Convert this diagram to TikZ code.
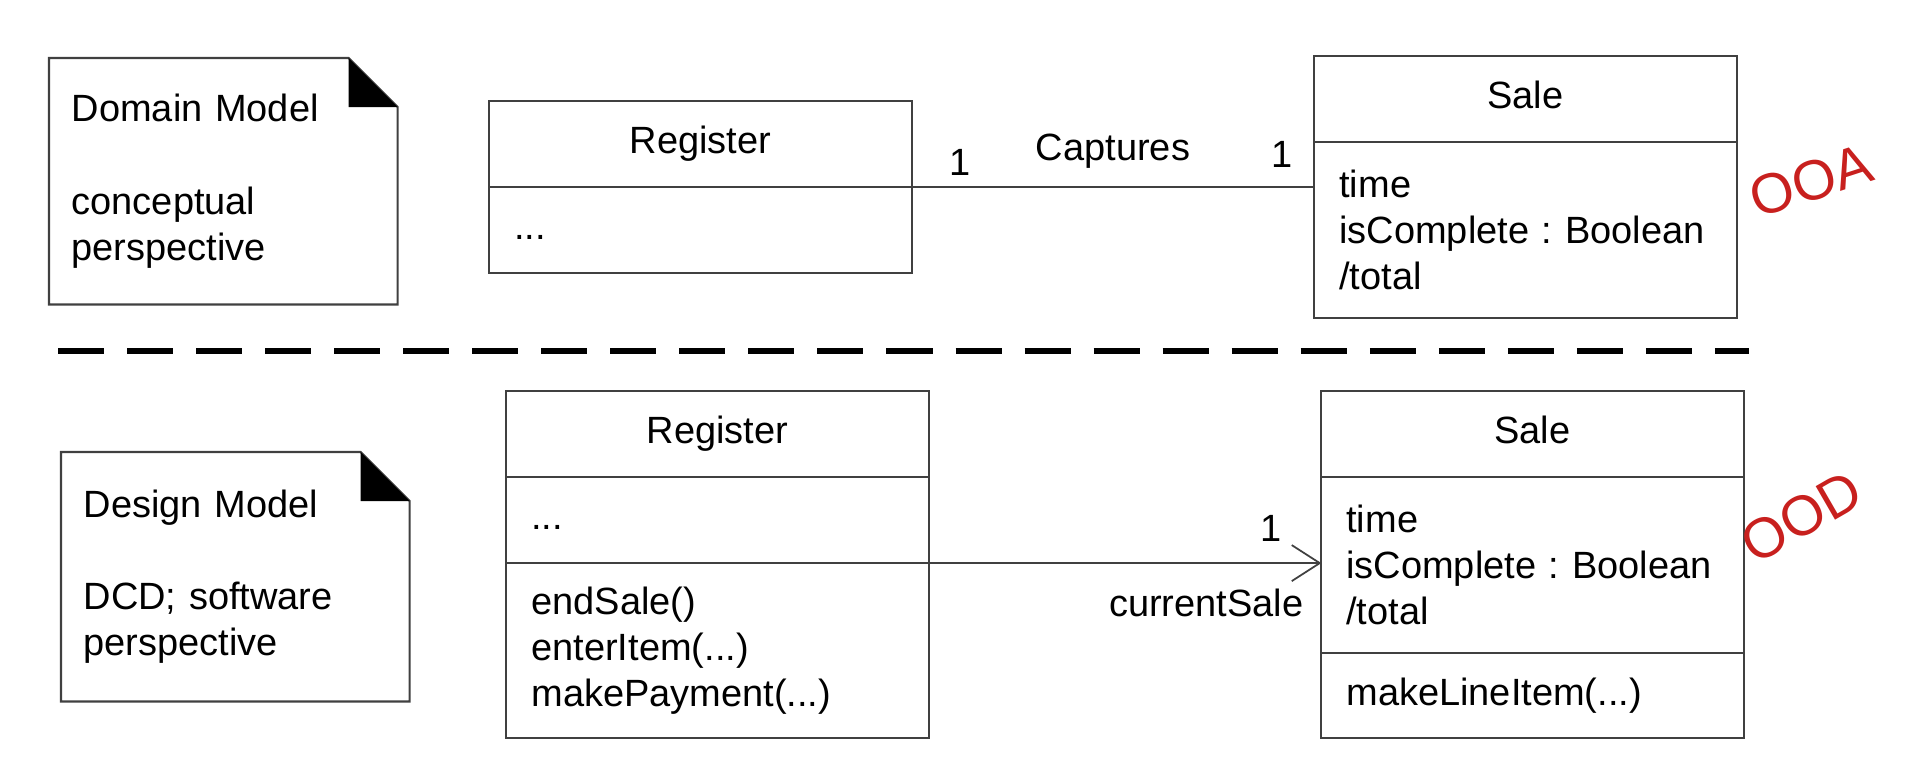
\documentclass[tikz,border=0pt]{standalone}
\usepackage{fontspec}
\setmainfont{Liberation Sans}
\usepackage{xcolor}
\usetikzlibrary{arrows.meta}
\frenchspacing

\definecolor{inkred}{RGB}{200,32,30}

\tikzset{
  comp/.style={draw=black!75, line width=0.6pt, minimum width=4.22cm, inner xsep=0.25cm, inner ysep=0pt, outer sep=0pt, anchor=north},
  namecomp/.style={comp, minimum height=0.86cm, text height=0.73em, text depth=0.21em},
  listcomp/.style={comp, align=left, text width=3.72cm},
  notebox/.style={minimum width=3.47cm, inner xsep=0.22cm, inner ysep=0pt, align=left, text width=3.03cm, anchor=north west},
  notefr/.style={draw=black!75, line width=0.6pt},
  assoc/.style={draw=black!75, line width=0.6pt},
  mult/.style={inner sep=0pt, anchor=base},
  scribble/.style={text=inkred, font=\fontsize{16}{16}\selectfont},
}

\begin{document}
\begin{tikzpicture}[x=0.01cm, y=-0.01cm, font=\fontsize{10.8}{13.1}\selectfont]
\useasboundingbox (0,0) rectangle (1911,782);

% notes
\node[notebox, minimum height=2.45cm] (dm) at (49,58) {Domain Model\\[13.1pt]conceptual\\perspective};
\draw[notefr] (dm.north west) -- ([xshift=-0.49cm]dm.north east) -- ([yshift=-0.49cm]dm.north east) -- (dm.south east) -- (dm.south west) -- cycle;
\fill ([xshift=-0.49cm]dm.north east) -- ([xshift=-0.49cm,yshift=-0.49cm]dm.north east) -- ([yshift=-0.49cm]dm.north east) -- cycle;

\node[notebox, minimum height=2.48cm] (ds) at (61,452) {Design Model\\[13.1pt]DCD; software\\perspective};
\draw[notefr] (ds.north west) -- ([xshift=-0.49cm]ds.north east) -- ([yshift=-0.49cm]ds.north east) -- (ds.south east) -- (ds.south west) -- cycle;
\fill ([xshift=-0.49cm]ds.north east) -- ([xshift=-0.49cm,yshift=-0.49cm]ds.north east) -- ([yshift=-0.49cm]ds.north east) -- cycle;

% domain model
\node[namecomp] (regA) at (700.5,101) {Register};
\node[listcomp, minimum height=0.86cm, text height=0.73em, text depth=0.21em] (regAattr) at (regA.south) {...};

\node[namecomp] (saleA) at (1525.5,56) {Sale};
\node[listcomp, minimum height=1.76cm] (saleAattr) at (saleA.south) {time\\isComplete : Boolean\\/total};

\draw[assoc] (regA.south east) -- (regA.south east -| saleAattr.west)
  node[mult, pos=0.12, yshift=0.12cm] (mA) {1}
  node[mult, pos=0.5, yshift=0.27cm] (cap) {Captures}
  node[mult, pos=0.92, yshift=0.20cm] (mB) {1};

% separator
\draw[line width=0.06cm, dash pattern=on 0.46cm off 0.23cm] (58,351) -- (1749,351);

% design model
\node[namecomp] (regB) at (717.5,391) {Register};
\node[listcomp, minimum height=0.86cm, text height=0.73em, text depth=0.21em] (regBattr) at (regB.south) {...};
\node[listcomp, minimum height=1.75cm] (regBops) at (regBattr.south) {endSale()\\enterItem(...)\\makePayment(...)};

\node[namecomp] (saleB) at (1532.5,391) {Sale};
\node[listcomp, minimum height=1.76cm] (saleBattr) at (saleB.south) {time\\isComplete : Boolean\\/total};
\node[listcomp, minimum height=0.85cm] (saleBops) at (saleBattr.south) {makeLineItem(...)};

\draw[assoc, -{Straight Barb[length=0.28cm, width=0.36cm, line width=0.5pt]}] (regBattr.south east) -- (regBattr.south east -| saleBattr.west)
  node[mult, pos=0.873, yshift=0.22cm] (mC) {1}
  node[mult, pos=0.957, anchor=base east, yshift=-0.53cm] (role) {currentSale};

% handwritten marks
\node[scribble, rotate=18] (ooa) at (1811,181) {OOA};
\node[scribble, rotate=30] (ood) at (1801,517) {OOD};
\end{tikzpicture}
\end{document}
